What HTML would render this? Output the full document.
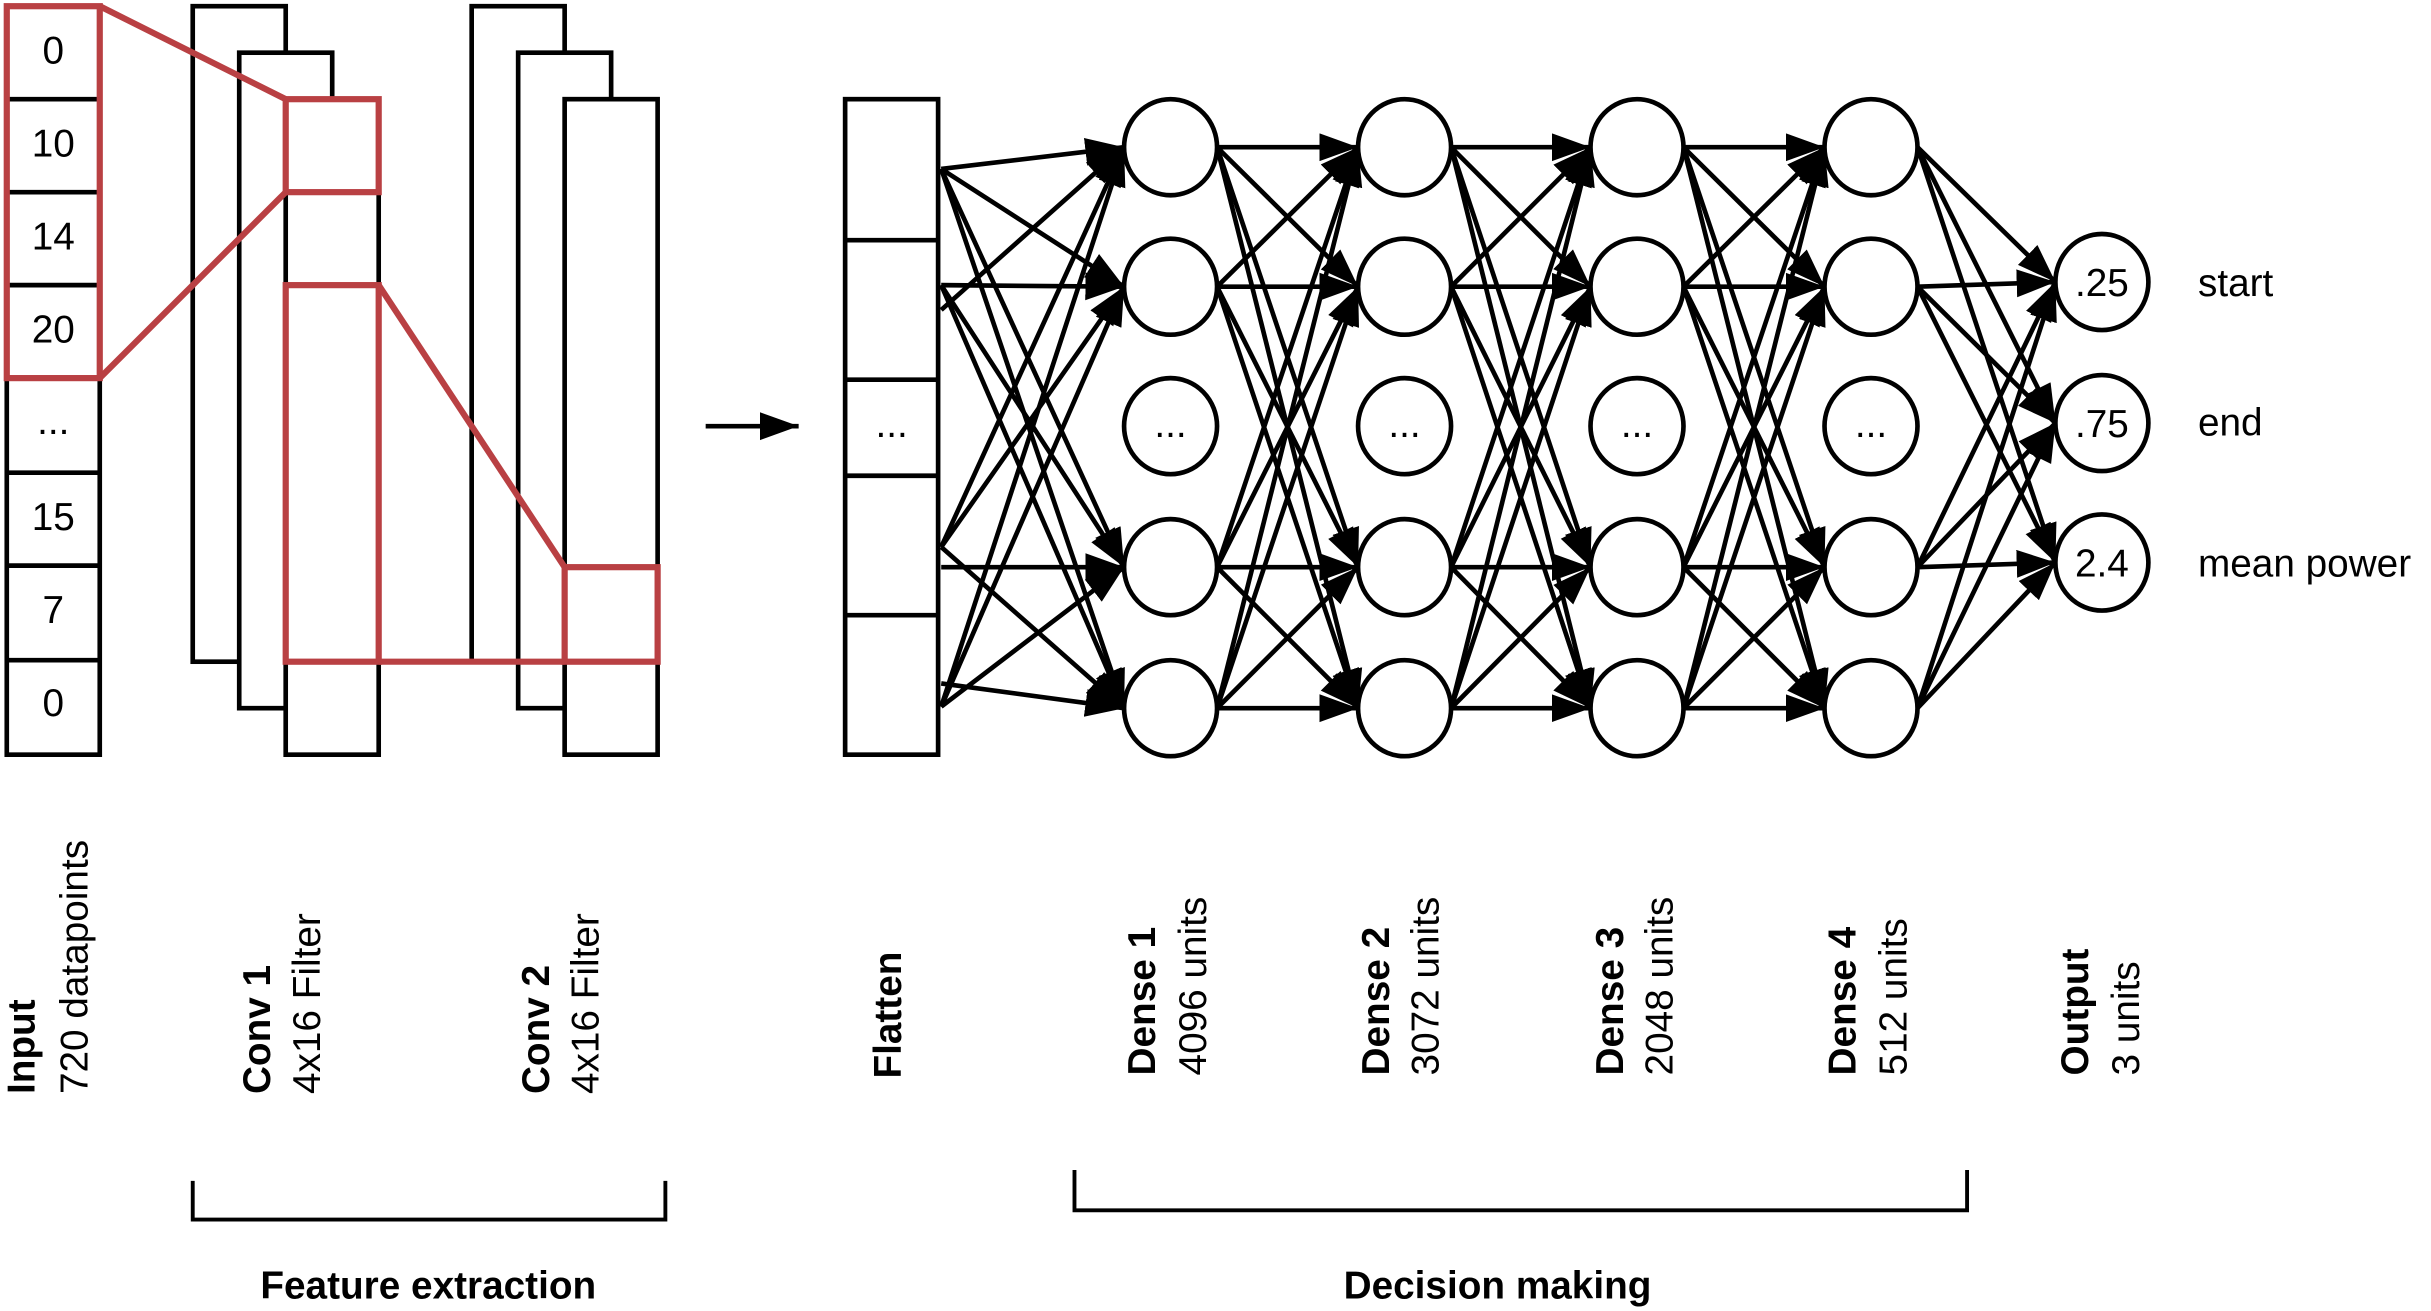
<!DOCTYPE html>
<html><head><meta charset="utf-8"><style>
html,body{margin:0;padding:0;background:#fff;}
svg{display:block;}
text{font-family:"Liberation Sans",sans-serif;fill:#000;}
</style></head><body>
<svg width="2431" height="1311" viewBox="0 0 1568 846" xmlns="http://www.w3.org/2000/svg">
<defs>
<marker id="a" markerUnits="userSpaceOnUse" markerWidth="26" markerHeight="20" refX="25" refY="9" orient="auto">
<path d="M0,0 L25,9 L0,18 z" fill="#000"/>
</marker>
</defs>
<g fill="#fff" stroke="#000" stroke-width="3">
<!-- input -->
<rect x="4" y="4" width="60" height="483"/>
<line x1="4" y1="64" x2="64" y2="64"/><line x1="4" y1="124" x2="64" y2="124"/><line x1="4" y1="184" x2="64" y2="184"/><line x1="4" y1="244" x2="64" y2="244"/><line x1="4" y1="305" x2="64" y2="305"/><line x1="4" y1="365" x2="64" y2="365"/><line x1="4" y1="426" x2="64" y2="426"/>
<!-- conv1 -->
<rect x="124" y="4" width="60" height="423"/>
<rect x="154" y="34" width="60" height="423"/>
<rect x="184" y="64" width="60" height="423"/>
<!-- conv2 -->
<rect x="304" y="4" width="60" height="423"/>
<rect x="334" y="34" width="60" height="423"/>
<rect x="364" y="64" width="60" height="423"/>
<!-- flatten -->
<rect x="545" y="64" width="60" height="423"/>
<line x1="545" y1="155" x2="605" y2="155"/><line x1="545" y1="245" x2="605" y2="245"/><line x1="545" y1="307" x2="605" y2="307"/><line x1="545" y1="397" x2="605" y2="397"/>
</g>
<g fill="none" stroke="#b94043" stroke-width="4">
<rect x="4" y="4" width="60" height="240"/>
<line x1="64" y1="4" x2="184" y2="64"/><line x1="64" y1="244" x2="184" y2="124"/>
<rect x="184" y="64" width="60" height="60"/>
<rect x="184" y="184" width="60" height="243"/>
<line x1="244" y1="184" x2="364" y2="366"/>
<line x1="244" y1="427" x2="364" y2="427"/>
<rect x="364" y="366" width="60" height="61"/>
</g>
<g font-size="25" text-anchor="middle">
<text x="34" y="41">0</text><text x="34" y="101">10</text><text x="34" y="161">14</text><text x="34" y="221">20</text><text x="34" y="280">...</text><text x="34" y="342">15</text><text x="34" y="402">7</text><text x="34" y="462">0</text>
<text x="575" y="282">...</text>
</g>
<g stroke="#000" stroke-width="3" marker-end="url(#a)">
<line x1="455" y1="275" x2="515" y2="275"/>
<!-- flatten to dense1 -->
<line x1="607" y1="109" x2="725" y2="95"/><line x1="607" y1="109" x2="725" y2="185"/><line x1="607" y1="109" x2="725" y2="366"/><line x1="607" y1="109" x2="725" y2="457"/>
<line x1="607" y1="200" x2="725" y2="95"/><line x1="607" y1="184" x2="725" y2="185"/><line x1="607" y1="184" x2="725" y2="366"/><line x1="607" y1="184" x2="725" y2="457"/>
<line x1="607" y1="353" x2="725" y2="95"/><line x1="607" y1="353" x2="725" y2="185"/><line x1="607" y1="366" x2="725" y2="366"/><line x1="607" y1="353" x2="725" y2="457"/>
<line x1="607" y1="456" x2="725" y2="95"/><line x1="607" y1="456" x2="725" y2="185"/><line x1="607" y1="456" x2="725" y2="366"/><line x1="607" y1="441" x2="725" y2="457"/>
<!-- d1-d2 -->
<line x1="785" y1="95" x2="876" y2="95"/><line x1="785" y1="95" x2="876" y2="185"/><line x1="785" y1="95" x2="876" y2="366"/><line x1="785" y1="95" x2="876" y2="457"/>
<line x1="785" y1="185" x2="876" y2="95"/><line x1="785" y1="185" x2="876" y2="185"/><line x1="785" y1="185" x2="876" y2="366"/><line x1="785" y1="185" x2="876" y2="457"/>
<line x1="785" y1="366" x2="876" y2="95"/><line x1="785" y1="366" x2="876" y2="185"/><line x1="785" y1="366" x2="876" y2="366"/><line x1="785" y1="366" x2="876" y2="457"/>
<line x1="785" y1="457" x2="876" y2="95"/><line x1="785" y1="457" x2="876" y2="185"/><line x1="785" y1="457" x2="876" y2="366"/><line x1="785" y1="457" x2="876" y2="457"/>
<!-- d2-d3 -->
<line x1="936" y1="95" x2="1026" y2="95"/><line x1="936" y1="95" x2="1026" y2="185"/><line x1="936" y1="95" x2="1026" y2="366"/><line x1="936" y1="95" x2="1026" y2="457"/>
<line x1="936" y1="185" x2="1026" y2="95"/><line x1="936" y1="185" x2="1026" y2="185"/><line x1="936" y1="185" x2="1026" y2="366"/><line x1="936" y1="185" x2="1026" y2="457"/>
<line x1="936" y1="366" x2="1026" y2="95"/><line x1="936" y1="366" x2="1026" y2="185"/><line x1="936" y1="366" x2="1026" y2="366"/><line x1="936" y1="366" x2="1026" y2="457"/>
<line x1="936" y1="457" x2="1026" y2="95"/><line x1="936" y1="457" x2="1026" y2="185"/><line x1="936" y1="457" x2="1026" y2="366"/><line x1="936" y1="457" x2="1026" y2="457"/>
<!-- d3-d4 -->
<line x1="1086" y1="95" x2="1177" y2="95"/><line x1="1086" y1="95" x2="1177" y2="185"/><line x1="1086" y1="95" x2="1177" y2="366"/><line x1="1086" y1="95" x2="1177" y2="457"/>
<line x1="1086" y1="185" x2="1177" y2="95"/><line x1="1086" y1="185" x2="1177" y2="185"/><line x1="1086" y1="185" x2="1177" y2="366"/><line x1="1086" y1="185" x2="1177" y2="457"/>
<line x1="1086" y1="366" x2="1177" y2="95"/><line x1="1086" y1="366" x2="1177" y2="185"/><line x1="1086" y1="366" x2="1177" y2="366"/><line x1="1086" y1="366" x2="1177" y2="457"/>
<line x1="1086" y1="457" x2="1177" y2="95"/><line x1="1086" y1="457" x2="1177" y2="185"/><line x1="1086" y1="457" x2="1177" y2="366"/><line x1="1086" y1="457" x2="1177" y2="457"/>
<!-- d4-out -->
<line x1="1237" y1="95" x2="1326" y2="182"/><line x1="1237" y1="95" x2="1326" y2="273"/><line x1="1237" y1="95" x2="1326" y2="363"/>
<line x1="1237" y1="185" x2="1326" y2="182"/><line x1="1237" y1="185" x2="1326" y2="273"/><line x1="1237" y1="185" x2="1326" y2="363"/>
<line x1="1237" y1="366" x2="1326" y2="182"/><line x1="1237" y1="366" x2="1326" y2="273"/><line x1="1237" y1="366" x2="1326" y2="363"/>
<line x1="1237" y1="457" x2="1326" y2="182"/><line x1="1237" y1="457" x2="1326" y2="273"/><line x1="1237" y1="457" x2="1326" y2="363"/>
</g>
<g fill="#fff" stroke="#000" stroke-width="3">
<ellipse cx="755" cy="95" rx="30" ry="31"/><ellipse cx="755" cy="185" rx="30" ry="31"/><ellipse cx="755" cy="275" rx="30" ry="31"/><ellipse cx="755" cy="366" rx="30" ry="31"/><ellipse cx="755" cy="457" rx="30" ry="31"/>
<ellipse cx="906" cy="95" rx="30" ry="31"/><ellipse cx="906" cy="185" rx="30" ry="31"/><ellipse cx="906" cy="275" rx="30" ry="31"/><ellipse cx="906" cy="366" rx="30" ry="31"/><ellipse cx="906" cy="457" rx="30" ry="31"/>
<ellipse cx="1056" cy="95" rx="30" ry="31"/><ellipse cx="1056" cy="185" rx="30" ry="31"/><ellipse cx="1056" cy="275" rx="30" ry="31"/><ellipse cx="1056" cy="366" rx="30" ry="31"/><ellipse cx="1056" cy="457" rx="30" ry="31"/>
<ellipse cx="1207" cy="95" rx="30" ry="31"/><ellipse cx="1207" cy="185" rx="30" ry="31"/><ellipse cx="1207" cy="275" rx="30" ry="31"/><ellipse cx="1207" cy="366" rx="30" ry="31"/><ellipse cx="1207" cy="457" rx="30" ry="31"/>
<ellipse cx="1356" cy="182" rx="30" ry="31"/><ellipse cx="1356" cy="273" rx="30" ry="31"/><ellipse cx="1356" cy="363" rx="30" ry="31"/>
</g>
<g font-size="25" text-anchor="middle">
<text x="755" y="282">...</text><text x="906" y="282">...</text><text x="1056" y="282">...</text><text x="1207" y="282">...</text>
<text x="1356" y="191">.25</text><text x="1356" y="282">.75</text><text x="1356" y="372">2.4</text>
</g>
<g font-size="25">
<text x="1418" y="191">start</text><text x="1418" y="281">end</text><text x="1418" y="372">mean power</text>
</g>
<g font-size="25">
<text transform="translate(22,706) rotate(-90)" font-weight="bold">Input</text>
<text transform="translate(56,706) rotate(-90)">720 datapoints</text>
<text transform="translate(174,706) rotate(-90)" font-weight="bold">Conv 1</text>
<text transform="translate(206,706) rotate(-90)">4x16 Filter</text>
<text transform="translate(354,706) rotate(-90)" font-weight="bold">Conv 2</text>
<text transform="translate(386,706) rotate(-90)">4x16 Filter</text>
<text transform="translate(581,696) rotate(-90)" font-weight="bold">Flatten</text>
<text transform="translate(745,694) rotate(-90)" font-weight="bold">Dense 1</text>
<text transform="translate(778,694) rotate(-90)">4096 units</text>
<text transform="translate(896,694) rotate(-90)" font-weight="bold">Dense 2</text>
<text transform="translate(928,694) rotate(-90)">3072 units</text>
<text transform="translate(1047,694) rotate(-90)" font-weight="bold">Dense 3</text>
<text transform="translate(1079,694) rotate(-90)">2048 units</text>
<text transform="translate(1197,694) rotate(-90)" font-weight="bold">Dense 4</text>
<text transform="translate(1230,694) rotate(-90)">512 units</text>
<text transform="translate(1347,694) rotate(-90)" font-weight="bold">Output</text>
<text transform="translate(1380,694) rotate(-90)">3 units</text>
</g>
<g fill="none" stroke="#000" stroke-width="2.5">
<polyline points="124,762 124,787 429,787 429,762"/>
<polyline points="693,755 693,781 1269,781 1269,755"/>
</g>
<g font-size="25" font-weight="bold" text-anchor="middle">
<text x="276" y="838">Feature extraction</text>
<text x="966" y="838">Decision making</text>
</g>
</svg>
</body></html>
